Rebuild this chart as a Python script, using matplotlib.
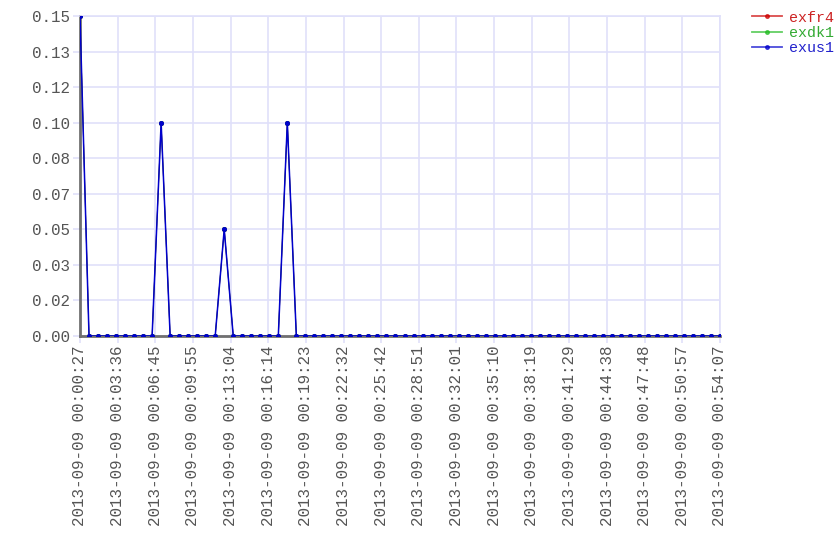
import numpy as np
import pandas as pd
import matplotlib
matplotlib.use('Agg')
import matplotlib.pyplot as plt

# sample times: 72 evenly spaced samples between first and last tick
t_start = '2013-09-09 00:00:27'
t_end = '2013-09-09 00:54:07'
n_samples = 72

exus1 = [0.15, 0, 0, 0, 0, 0, 0, 0, 0, 0.10, 0, 0, 0, 0, 0, 0, 0.05, 0, 0, 0,
         0, 0, 0, 0.10, 0, 0, 0, 0, 0, 0, 0, 0, 0, 0, 0, 0, 0, 0, 0, 0,
         0, 0, 0, 0, 0, 0, 0, 0, 0, 0, 0, 0, 0, 0, 0, 0, 0, 0, 0, 0,
         0, 0, 0, 0, 0, 0, 0, 0, 0, 0, 0, 0]
exfr4 = list(exus1)
exdk1 = list(exus1)

series_names = ['exfr4', 'exdk1', 'exus1']
series_colors = ['#cc0000', '#22bb22', '#0000cc']
text_colors = ['#cc2222', '#33aa33', '#2222cc']

plt.rcParams['font.family'] = ['Liberation Mono', 'DejaVu Sans Mono']

times = pd.date_range(t_start, t_end, periods=n_samples)

fig = plt.figure(figsize=(8.4, 5.6), dpi=100)
ax = fig.add_axes([80 / 840, 1 - 336 / 560, 640 / 840, 320 / 560])

lines = []
for name, vals, col in zip(series_names, [exfr4, exdk1, exus1], series_colors):
    ln, = ax.plot(times, vals, color=col, lw=1.1, marker='o', ms=2.6, label=name, zorder=3)
    lines.append(ln)
# red and green sit exactly under the blue series
lines[0].set_lw(0.6)
lines[1].set_lw(0.6)

ax.set_xlim(times[0], times[-1])
ax.set_ylim(0, 0.15)

yt = np.linspace(0, 0.15, 10)
ax.set_yticks(yt)
ax.set_yticklabels(['%.2f' % v for v in yt])
xt = pd.date_range(t_start, t_end, periods=18)
ax.set_xticks(xt)
ax.set_xticklabels([t.strftime('%Y-%m-%d %H:%M:%S') for t in xt], rotation=90)

grid_col = '#e0e0fa'
ax.grid(True, color=grid_col, lw=1.2, zorder=0)
ax.set_axisbelow(True)
ax.tick_params(axis='both', colors=grid_col, labelcolor='#555555', labelsize=11.4,
               length=5, width=1.2, pad=2)
for side in ['top', 'right']:
    ax.spines[side].set_color(grid_col)
    ax.spines[side].set_linewidth(1.2)
for side in ['left', 'bottom']:
    ax.spines[side].set_color('#707070')
    ax.spines[side].set_linewidth(2)
    ax.spines[side].set_zorder(2.5)

leg = ax.legend(loc='upper left', bbox_to_anchor=(1.05, 1.017), frameon=False,
                fontsize=10.8, handlelength=2.0, handletextpad=0.5, labelspacing=0.08,
                borderaxespad=0, borderpad=0)
for txt, c in zip(leg.get_texts(), text_colors):
    txt.set_color(c)
for h in leg.legend_handles:
    h.set_alpha(0.7)
    h.set_linewidth(1.3)

fig.savefig('out.png', dpi=100)
